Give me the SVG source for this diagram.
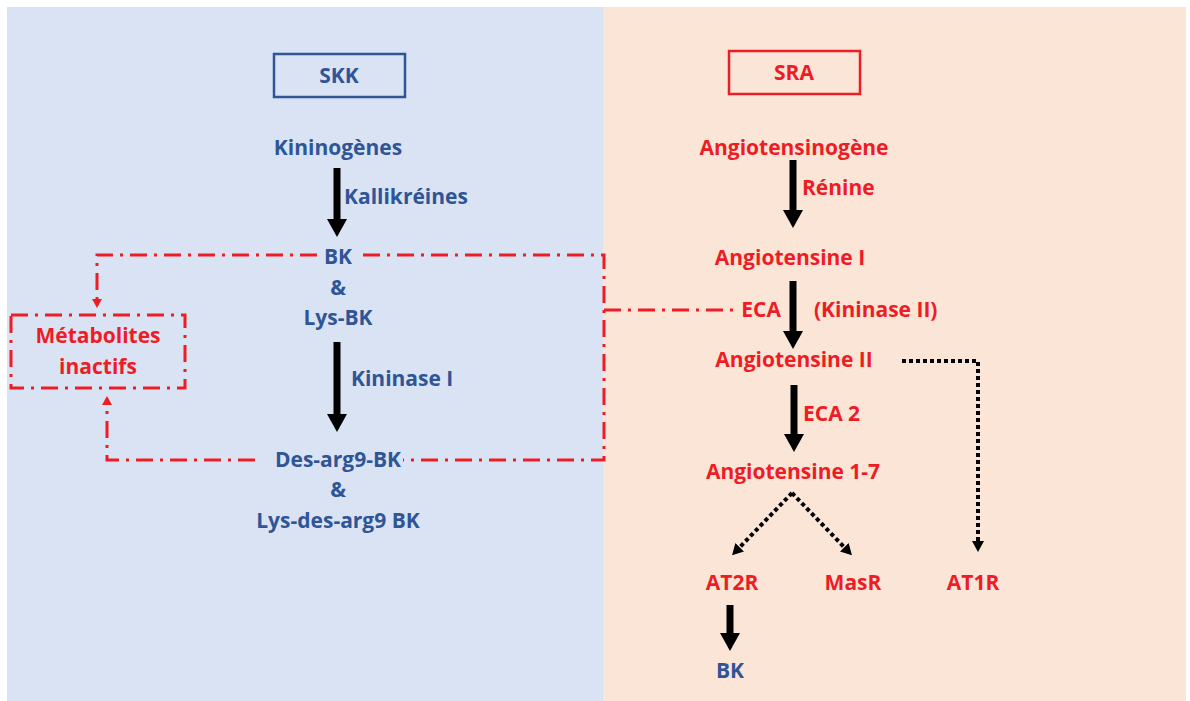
<svg xmlns="http://www.w3.org/2000/svg" width="1190" height="701" viewBox="0 0 1190 701">
<defs>
<style>
text{font-family:"Open Sans","Liberation Sans",sans-serif;font-weight:bold;font-size:21px;text-anchor:middle}
.b{fill:#2f5597}
.r{fill:#ee1c25}
.s{text-anchor:start}
.e{text-anchor:end}
.solid{stroke:#000;stroke-width:7;fill:none}
.dot{stroke:#000;stroke-width:4;stroke-dasharray:4 3;fill:none}
.dd{stroke:#ee1c25;stroke-width:3;stroke-dasharray:17 7 3 7;fill:none}
</style>
<marker id="hb" markerUnits="userSpaceOnUse" markerWidth="18" markerHeight="20" refX="1" refY="10" orient="auto" viewBox="0 0 18 20"><path d="M0,0 L18,10 L0,20 z" fill="#000"/></marker>
<marker id="hd" markerUnits="userSpaceOnUse" markerWidth="11" markerHeight="12" refX="1" refY="6" orient="auto" viewBox="0 0 11 12"><path d="M0,0 L11,6 L0,12 z" fill="#000"/></marker>
<marker id="hr" markerUnits="userSpaceOnUse" markerWidth="9" markerHeight="10" refX="1" refY="5" orient="auto" viewBox="0 0 9 10"><path d="M0,0 L9,5 L0,10 z" fill="#ee1c25"/></marker>
</defs>
<rect x="0" y="0" width="1190" height="701" fill="#fff"/>
<rect x="7" y="7" width="596" height="694" fill="#dae3f3"/>
<rect x="603" y="7" width="583" height="694" fill="#fbe5d6"/>

<g id="connectors">
<line class="solid" x1="337" y1="168" x2="337" y2="220" marker-end="url(#hb)"/>
<line class="solid" x1="337" y1="342" x2="337" y2="415" marker-end="url(#hb)"/>
<line class="solid" x1="793" y1="160" x2="793" y2="211" marker-end="url(#hb)"/>
<line class="solid" x1="793" y1="281" x2="793" y2="332" marker-end="url(#hb)"/>
<line class="solid" x1="794" y1="385" x2="794" y2="435" marker-end="url(#hb)"/>
<line class="solid" x1="730" y1="605" x2="730" y2="634" marker-end="url(#hb)"/>
<line class="dot" x1="792" y1="493" x2="739" y2="548" marker-end="url(#hd)"/>
<line class="dot" x1="792" y1="493" x2="845" y2="548" marker-end="url(#hd)"/>
<polyline class="dot" points="902,361 978,361 978,542" marker-end="url(#hd)"/>
<polyline class="dd" points="317,255 97,255 97,300" marker-end="url(#hr)"/>
<polyline class="dd" points="255,460 107,460 107,404" marker-end="url(#hr)"/>
<polyline class="dd" points="363,255 604,255 604,460 403,460"/>
<line class="dd" x1="604" y1="310" x2="735" y2="310"/>
</g>

<g id="skk"><rect x="274" y="54" width="131" height="43" fill="none" stroke="#2f5597" stroke-width="2.5"/><text class="b" x="339" y="83">SKK</text></g>
<g id="sra"><rect x="729" y="51" width="131" height="43" fill="none" stroke="#ee1c25" stroke-width="2.5"/><text class="r" x="794" y="80">SRA</text></g>
<g id="kininogenes"><text class="b" x="338" y="155">Kininogènes</text></g>
<g id="kallikreines"><text class="b s" x="344" y="204">Kallikréines</text></g>
<g id="bk"><text class="b" x="338" y="264">BK</text><text class="b" x="338" y="295">&amp;</text><text class="b" x="338" y="325">Lys-BK</text></g>
<g id="kininase1"><text class="b s" x="351" y="386">Kininase I</text></g>
<g id="desarg"><text class="b" x="338" y="467">Des-arg9-BK</text><text class="b" x="338" y="497">&amp;</text><text class="b" x="338" y="528">Lys-des-arg9 BK</text></g>
<g id="metabolites"><rect x="11" y="315" width="174" height="73" fill="none" class="dd"/><text class="r" x="98" y="343">Métabolites</text><text class="r" x="98" y="374">inactifs</text></g>
<g id="angiotensinogene"><text class="r" x="794" y="155">Angiotensinogène</text></g>
<g id="renine"><text class="r s" x="802" y="195">Rénine</text></g>
<g id="ang1"><text class="r" x="790" y="265">Angiotensine I</text></g>
<g id="eca"><text class="r e" x="781" y="317">ECA</text><text class="r s" x="814" y="317">(Kininase II)</text></g>
<g id="ang2"><text class="r" x="794" y="367">Angiotensine II</text></g>
<g id="eca2"><text class="r s" x="803" y="421">ECA 2</text></g>
<g id="ang17"><text class="r" x="793" y="479">Angiotensine 1-7</text></g>
<g id="at2r"><text class="r" x="732" y="590">AT2R</text></g>
<g id="masr"><text class="r" x="853" y="590">MasR</text></g>
<g id="at1r"><text class="r" x="973" y="590">AT1R</text></g>
<g id="bk2"><text class="b" x="730" y="678">BK</text></g>
</svg>
